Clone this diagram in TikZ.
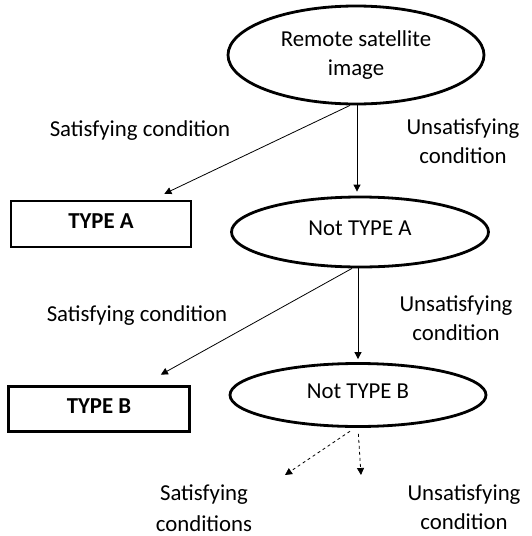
\documentclass[tikz,border=0pt]{standalone}
\usepackage{fontspec}
\setmainfont{Carlito}
\usetikzlibrary{shapes.geometric,arrows.meta}
\begin{document}
\begin{tikzpicture}[x=1pt,y=-1pt,
  every node/.style={font=\fontsize{22.8}{29}\selectfont, text=black},
  oval/.style={draw, line width=2.8pt, ellipse, inner sep=0pt},
  box/.style={draw, line width=2.4pt, rectangle, inner sep=0pt},
  lbl/.style={align=center, inner sep=0pt},
  arr/.style={-{Triangle[length=7pt,width=7pt]}, line width=0.8pt},
  darr/.style={arr, dashed}]
\useasboundingbox (0,0) rectangle (531,536);
\node[oval, minimum width=256pt, minimum height=98pt, align=center] (e1) at (356,55) {Remote satellite\\image};
\node[oval, minimum width=257pt, minimum height=70pt] (e2) at (360,232) {\raisebox{8pt}{Not TYPE A}};
\node[oval, minimum width=256pt, minimum height=63pt] (e3) at (358,395) {\raisebox{7pt}{Not TYPE B}};
\node[box, minimum width=180pt, minimum height=46pt] (tA) at (101,224) {\raisebox{6pt}{\textbf{TYPE A}}};
\node[box, minimum width=181pt, minimum height=45pt] (tB) at (99,409) {\raisebox{6pt}{\textbf{TYPE B}}};
\node[lbl] (s1) at (140,131) {Satisfying condition};
\node[lbl] (u1) at (463,141) {Unsatisfying\\condition};
\node[lbl] (s2) at (137,316) {Satisfying condition};
\node[lbl] (u2) at (456,318) {Unsatisfying\\condition};
\node[lbl, font=\fontsize{22.8}{31}\selectfont] (s3) at (204,508) {Satisfying\\conditions};
\node[lbl] (u3) at (464,507) {Unsatisfying\\condition};
\coordinate (d1) at (285,475);
\coordinate (d2) at (361,475);
\draw[arr] ([xshift=1pt]e1.south) -- ([xshift=1pt]e1.south |- e2.north) [shorten >=4pt];
\draw[arr, shorten >=14pt] ([xshift=-6pt]e1.south) -- (tA);
\draw[arr, shorten >=3pt] ([xshift=-2pt]e2.south) -- ([xshift=-2pt]e2.south |- e3.north);
\draw[arr, shorten >=22pt] ([xshift=-8pt]e2.south) -- (tB);
\draw[darr, shorten <=6pt] ([xshift=-3pt]e3.south) -- (d1);
\draw[darr, shorten <=6pt] (e3.south) -- (d2);
\end{tikzpicture}
\end{document}
